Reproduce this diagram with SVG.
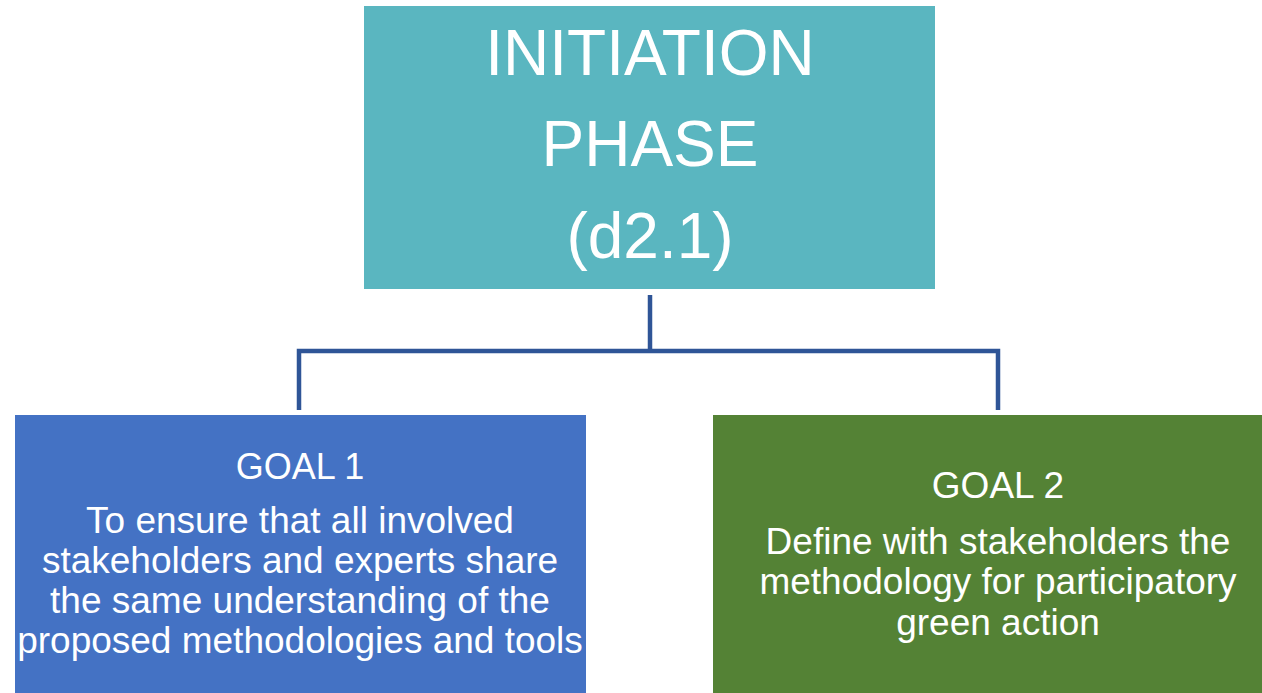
<svg xmlns="http://www.w3.org/2000/svg" width="1262" height="693" viewBox="0 0 1262 693">
<style>
.t{font-family:"Liberation Sans",Arial,sans-serif;fill:#ffffff;text-anchor:middle}
.big{font-size:64px}
.head{font-size:36px}
.mid{font-size:37px}
.conn{fill:none;stroke:#2F5597;stroke-width:4.5;stroke-linejoin:miter}
</style>
<rect width="1262" height="693" fill="#ffffff"/>
<g id="connectors">
<path class="conn" d="M650 295 V351"/>
<path class="conn" d="M299 410 V351 H998 V410"/>
</g>
<g id="node-initiation">
<rect x="364" y="6" width="571" height="283" fill="#5AB6C0"/>
<text class="t big" x="650" y="75">INITIATION</text>
<text class="t big" x="650" y="166">PHASE</text>
<text class="t big" x="650" y="258">(d2.1)</text>
</g>
<g id="node-goal1">
<rect x="15" y="415" width="571" height="278" fill="#4472C4"/>
<text class="t head" x="300" y="479">GOAL 1</text>
<text class="t mid" x="300" y="533">To ensure that all involved</text>
<text class="t mid" x="300" y="573">stakeholders and experts share</text>
<text class="t mid" x="300" y="613">the same understanding of the</text>
<text class="t mid" x="300" y="653">proposed methodologies and tools</text>
</g>
<g id="node-goal2">
<rect x="713" y="415" width="560" height="278" fill="#548235"/>
<text class="t mid" x="998" y="498">GOAL 2</text>
<text class="t mid" x="998" y="554">Define with stakeholders the</text>
<text class="t mid" x="998" y="594">methodology for participatory</text>
<text class="t mid" x="998" y="635">green action</text>
</g>
</svg>
